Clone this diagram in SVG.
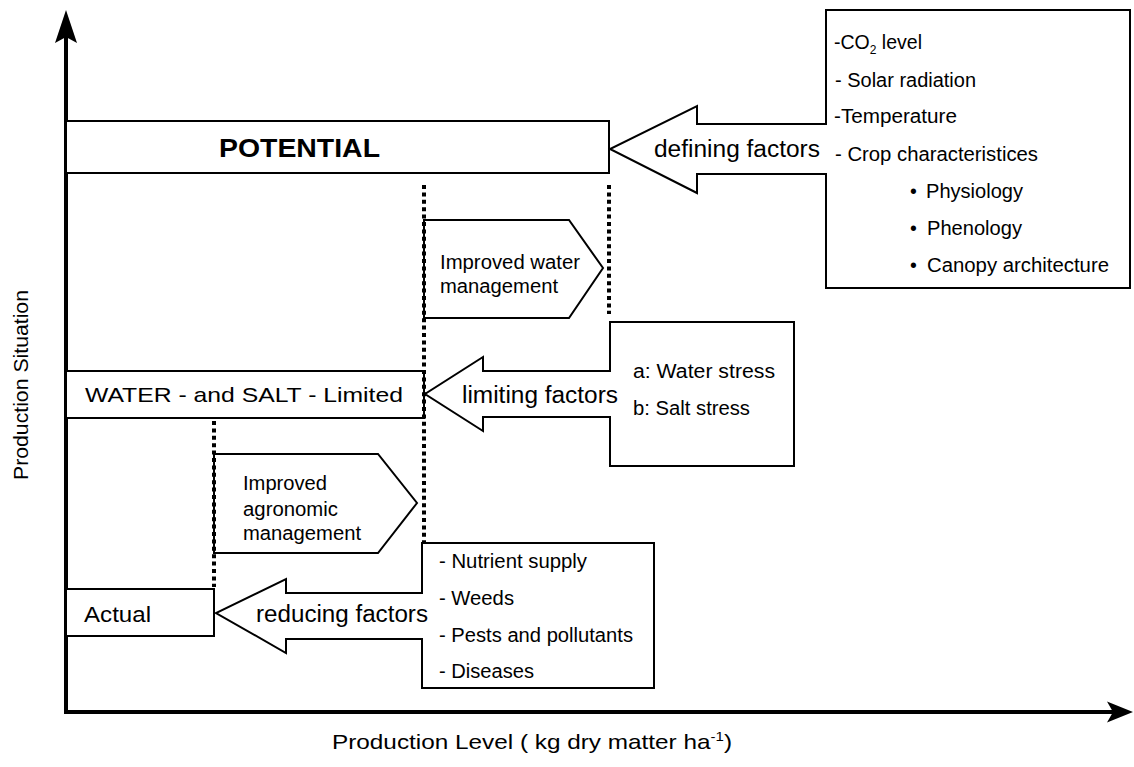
<svg xmlns="http://www.w3.org/2000/svg" width="1134" height="767" viewBox="0 0 1134 767">
<style>
.t{font-family:"Liberation Sans",Arial,sans-serif;fill:#000}
.box{fill:#fff;stroke:#000;stroke-width:2}
.dot{stroke:#000;stroke-width:4;stroke-dasharray:4 3.4;fill:none}
.axis{stroke:#000;stroke-width:4;fill:none}
.s19{font-size:19.5px}
.s23{font-size:23.5px}
</style>
<rect width="1134" height="767" fill="#fff"/>
<g id="axes">
<line class="axis" x1="66" y1="714" x2="66" y2="36"/>
<path d="M66,10 L77,43 L66,37 L55,43 Z" fill="#000"/>
<line class="axis" x1="64" y1="712" x2="1113" y2="712"/>
<path d="M1133,712 L1107,701.5 L1113,712 L1107,722.5 Z" fill="#000"/>
<text class="t" font-size="21" transform="translate(28,480) rotate(-90)" textLength="190" lengthAdjust="spacingAndGlyphs">Production Situation</text>
<text class="t" font-size="21" x="332" y="749" textLength="400" lengthAdjust="spacingAndGlyphs">Production Level ( kg dry matter ha<tspan font-size="13" dy="-8">-1</tspan><tspan dy="8">)</tspan></text>
</g>
<g id="potential">
<rect class="box" x="66" y="121" width="543" height="52"/>
<text class="t" font-size="25" font-weight="bold" x="219" y="157" textLength="161" lengthAdjust="spacingAndGlyphs">POTENTIAL</text>
</g>
<g id="defining">
<path class="box" d="M826,10 H1130 V288 H826 V174 H697 V193 L610,149 L697,106 V124 H826 Z"/>
<text class="t s23" x="654" y="157" textLength="166" lengthAdjust="spacingAndGlyphs">defining factors</text>
<text class="t s19" x="834" y="49">-CO<tspan font-size="12" dy="5">2</tspan><tspan dy="-5"> level</tspan></text>
<text class="t s19" x="835" y="87" textLength="141" lengthAdjust="spacingAndGlyphs">- Solar radiation</text>
<text class="t s19" x="834" y="123" textLength="123" lengthAdjust="spacingAndGlyphs">-Temperature</text>
<text class="t s19" x="835" y="161" textLength="203" lengthAdjust="spacingAndGlyphs">- Crop characteristices</text>
<text class="t s19" x="910" y="198">•</text>
<text class="t s19" x="926" y="198" textLength="97" lengthAdjust="spacingAndGlyphs">Physiology</text>
<text class="t s19" x="910" y="235">•</text>
<text class="t s19" x="927" y="235" textLength="95" lengthAdjust="spacingAndGlyphs">Phenology</text>
<text class="t s19" x="910" y="272">•</text>
<text class="t s19" x="927" y="272" textLength="182" lengthAdjust="spacingAndGlyphs">Canopy architecture</text>
</g>
<g id="water-mgmt">
<path class="box" d="M424,220 H569 L603,268 L569,318 H424 Z"/>
<text class="t s19" x="440" y="269" textLength="140" lengthAdjust="spacingAndGlyphs">Improved water</text>
<text class="t s19" x="440" y="293" textLength="118" lengthAdjust="spacingAndGlyphs">management</text>
</g>
<g id="water-salt">
<rect class="box" x="66" y="371" width="358" height="47"/>
<text class="t" font-size="21" x="85" y="402" textLength="318" lengthAdjust="spacingAndGlyphs">WATER - and SALT - Limited</text>
</g>
<g id="limiting">
<path class="box" d="M610,322 H794 V466 H610 V417 H483 V431 L425,394 L483,357 V371 H610 Z"/>
<text class="t s23" x="462" y="403" textLength="156" lengthAdjust="spacingAndGlyphs">limiting factors</text>
<text class="t s19" x="633" y="378" textLength="142" lengthAdjust="spacingAndGlyphs">a:  Water stress</text>
<text class="t s19" x="633" y="415" textLength="117" lengthAdjust="spacingAndGlyphs">b: Salt stress</text>
</g>
<g id="agro-mgmt">
<path class="box" d="M214,454 H378 L417,503 L378,553 H214 Z"/>
<text class="t s19" x="243" y="490" textLength="84" lengthAdjust="spacingAndGlyphs">Improved</text>
<text class="t s19" x="243" y="516" textLength="95" lengthAdjust="spacingAndGlyphs">agronomic</text>
<text class="t s19" x="243" y="540" textLength="118" lengthAdjust="spacingAndGlyphs">management</text>
</g>
<g id="actual">
<rect class="box" x="66" y="589" width="148" height="47"/>
<text class="t" font-size="22" x="84" y="622" textLength="67" lengthAdjust="spacingAndGlyphs">Actual</text>
</g>
<g id="reducing">
<path class="box" d="M422,543 H654 V688 H422 V639 H286 V653 L216,613 L286,579 V593 H422 Z"/>
<text class="t s23" x="256" y="622" textLength="172" lengthAdjust="spacingAndGlyphs">reducing factors</text>
<text class="t s19" x="439" y="568" textLength="148" lengthAdjust="spacingAndGlyphs">- Nutrient supply</text>
<text class="t s19" x="439" y="605" textLength="75" lengthAdjust="spacingAndGlyphs">- Weeds</text>
<text class="t s19" x="439" y="642" textLength="194" lengthAdjust="spacingAndGlyphs">- Pests and pollutants</text>
<text class="t s19" x="439" y="678" textLength="95" lengthAdjust="spacingAndGlyphs">- Diseases</text>
</g>
<g id="connectors">
<line class="dot" x1="424" y1="185" x2="424" y2="542"/>
<line class="dot" x1="609" y1="185" x2="609" y2="314"/>
<line class="dot" x1="214" y1="421" x2="214" y2="587"/>
</g>
</svg>
